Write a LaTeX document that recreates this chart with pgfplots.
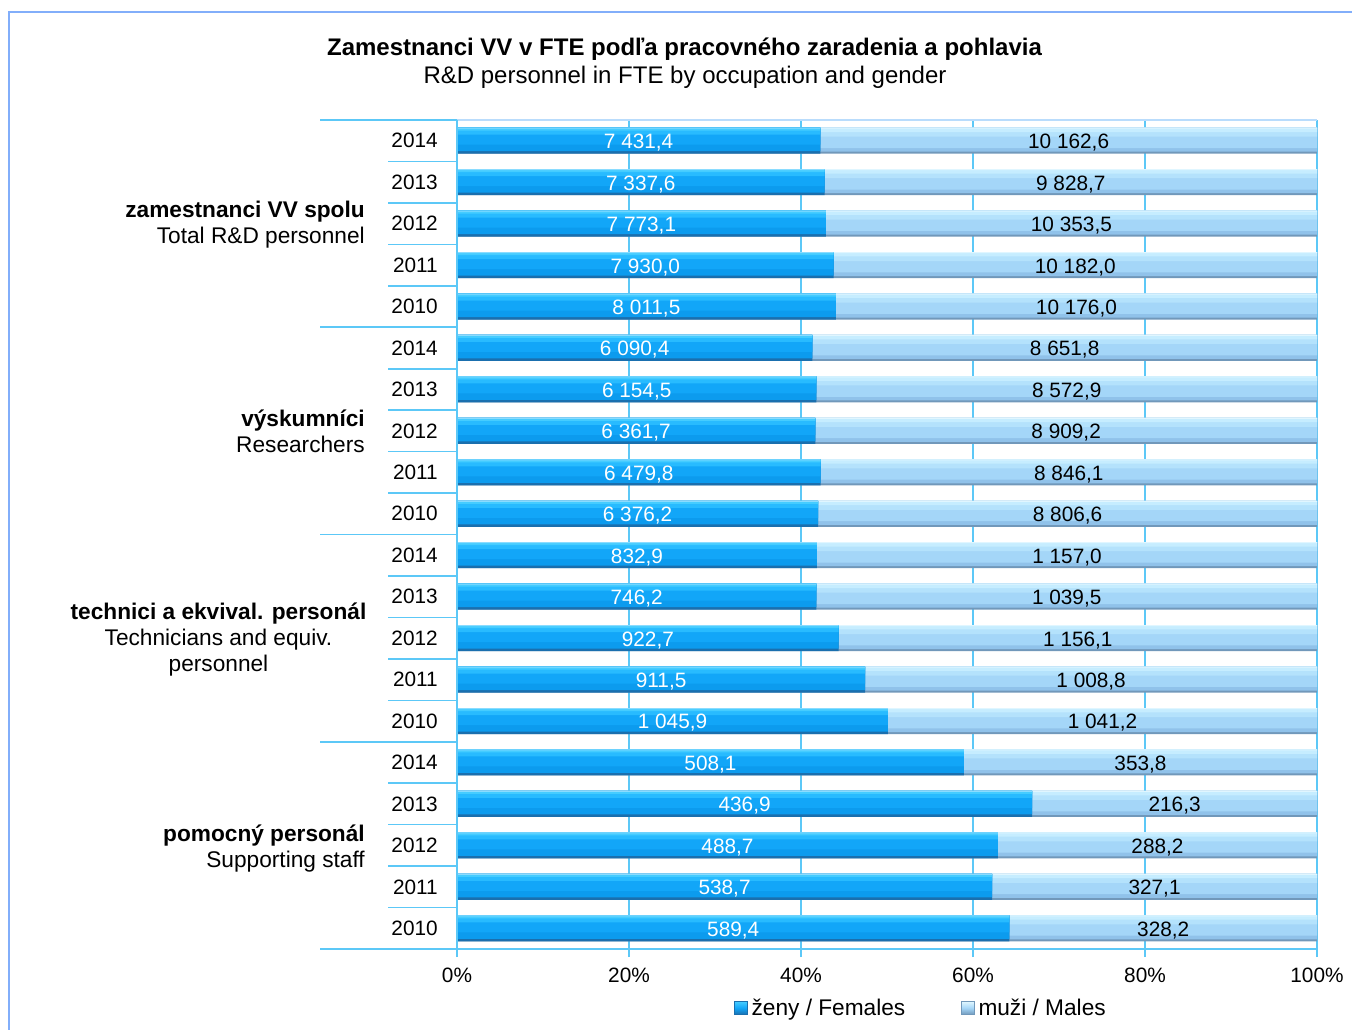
\documentclass[border=0pt]{standalone}
\usepackage{pgfplots}
\pgfplotsset{compat=1.18}
\usepackage{pgfplotstable}
\usepackage{fontspec}
\setmainfont{Liberation Sans}

\definecolor{gridc}{HTML}{5CC8F7}
\definecolor{framec}{HTML}{82AEFA}
\definecolor{fA}{HTML}{1A6FAE}
\definecolor{fB}{HTML}{0C9BEE}
\definecolor{fC}{HTML}{12A6F8}
\definecolor{fD}{HTML}{28BBFF}
\definecolor{fE}{HTML}{45CCFF}
\definecolor{fF}{HTML}{8ADCFF}
\definecolor{mA}{HTML}{7198BA}
\definecolor{mB}{HTML}{90C2EA}
\definecolor{mC}{HTML}{A4D6F8}
\definecolor{mD}{HTML}{B4E2FC}
\definecolor{mE}{HTML}{C6EDFF}
\definecolor{mF}{HTML}{E0F6FF}

\pgfplotstableread{
year f m
2014 7431.4 10162.6
2013 7337.6 9828.7
2012 7773.1 10353.5
2011 7930.0 10182.0
2010 8011.5 10176.0
2014 6090.4 8651.8
2013 6154.5 8572.9
2012 6361.7 8909.2
2011 6479.8 8846.1
2010 6376.2 8806.6
2014 832.9 1157.0
2013 746.2 1039.5
2012 922.7 1156.1
2011 911.5 1008.8
2010 1045.9 1041.2
2014 508.1 353.8
2013 436.9 216.3
2012 488.7 288.2
2011 538.7 327.1
2010 589.4 328.2
}\data

\newcommand\tickfont{\fontsize{15.6}{18}\selectfont}
\newcommand\labfont{\fontsize{17}{19.5}\selectfont}

\begin{document}
\begin{tikzpicture}
\useasboundingbox (0,0) rectangle (1014pt,-771.75pt);
\pgfplotsset{
  common/.style={
    at={(665.25pt,-400.875pt)}, anchor=center,
    width=645pt, height=621.75pt, scale only axis,
    xmin=0, xmax=100, ymin=-0.5, ymax=19.5,
  },
  lay/.style 2 args={forget plot, draw=none, fill=#1, bar width=#2},
}
\begin{axis}[
  common,
  xbar,
  xtick={0,20,...,100},
  xticklabel={\pgfmathprintnumber{\tick}\%},
  /pgf/number format/assume math mode=true,
  xmajorgrids, major grid style={draw=gridc, line width=1.2pt},
  xtick style={draw=gridc, line width=1.2pt},
  xtick pos=lower,
  tick align=outside, major tick length=6pt,
  xticklabel style={font=\tickfont, yshift=-4.5pt},
  ytick={0,...,19},
  yticklabels={2010,2011,2012,2013,2014,2010,2011,2012,2013,2014,2010,2011,2012,2013,2014,2010,2011,2012,2013,2014},
  ytick style={draw=none},
  yticklabel style={font=\tickfont, anchor=east, inner sep=0pt, xshift=-8.25pt},
  axis line style={draw=none},
  clip=false,
  legend style={draw=none, fill=none, at={(0.54,-0.0712)}, anchor=center,
    legend columns=2, font=\labfont,
    /tikz/every even column/.append style={column sep=40pt},
    /tikz/every odd column/.append style={column sep=1pt}},
  legend image code/.code={\path[#1] (0pt,-4.9pt) rectangle (9.5pt,4.9pt);},
]
% males: full bar 0..100 underneath
\addplot[lay={mA}{19.5pt}, bar shift=0pt]      table[x expr=100, y expr=19-\coordindex] {\data};
\addplot[lay={mB}{18pt}, bar shift=0.75pt]     table[x expr=100, y expr=19-\coordindex] {\data};
\addplot[lay={mC}{15.25pt}, bar shift=2.125pt] table[x expr=100, y expr=19-\coordindex] {\data};
\addplot[lay={mD}{6.75pt}, bar shift=6.375pt]  table[x expr=100, y expr=19-\coordindex] {\data};
\addplot[lay={mE}{3.25pt}, bar shift=8.125pt]  table[x expr=100, y expr=19-\coordindex] {\data};
\addplot[lay={mF}{0.75pt}, bar shift=9.375pt]  table[x expr=100, y expr=19-\coordindex] {\data};
% females: share of total
\addplot[lay={fA}{19.5pt}, bar shift=0pt]      table[x expr={100*\thisrow{f}/(\thisrow{f}+\thisrow{m})}, y expr=19-\coordindex] {\data};
\addplot[lay={fB}{17.6pt}, bar shift=0.95pt]   table[x expr={100*\thisrow{f}/(\thisrow{f}+\thisrow{m})}, y expr=19-\coordindex] {\data};
\addplot[lay={fC}{12.75pt}, bar shift=3.375pt] table[x expr={100*\thisrow{f}/(\thisrow{f}+\thisrow{m})}, y expr=19-\coordindex] {\data};
\addplot[lay={fD}{5.25pt}, bar shift=7.125pt]  table[x expr={100*\thisrow{f}/(\thisrow{f}+\thisrow{m})}, y expr=19-\coordindex] {\data};
\addplot[lay={fE}{2.25pt}, bar shift=8.625pt]  table[x expr={100*\thisrow{f}/(\thisrow{f}+\thisrow{m})}, y expr=19-\coordindex] {\data};
\addplot[lay={fF}{0.75pt}, bar shift=9.375pt]  table[x expr={100*\thisrow{f}/(\thisrow{f}+\thisrow{m})}, y expr=19-\coordindex] {\data};
\addlegendimage{top color=fE, bottom color=fA, middle color=fC, draw=fA, line width=0.4pt}
\addlegendentry{ženy / Females}
\addlegendimage{top color=mF, bottom color=mA, middle color=mC, draw=mA, line width=0.4pt}
\addlegendentry{muži / Males}
\draw[gridc, line width=1.2pt] (rel axis cs:0,0) -- (rel axis cs:1,0);
\draw[gridc!40!framec!50, line width=1.2pt] (rel axis cs:0,1) -- (rel axis cs:1,1);
\draw[gridc, line width=1.2pt] (rel axis cs:0,0) -- (rel axis cs:0,1);
\end{axis}

\begin{axis}[
  common, hide axis,
  /pgf/number format/.cd, fixed, fixed zerofill, precision=1, use comma, 1000 sep={\ }, assume math mode=true,
]
\addplot[draw=none, nodes near coords, nodes near coords align=center,
  point meta=explicit,
  every node near coord/.append style={text=white, font=\tickfont, inner sep=0pt, yshift=-1.5pt}]
  table[x expr={50*\thisrow{f}/(\thisrow{f}+\thisrow{m})}, y expr=19-\coordindex, meta=f] {\data};
\addplot[draw=none, nodes near coords, nodes near coords align=center,
  point meta=explicit,
  every node near coord/.append style={text=black, font=\tickfont, inner sep=0pt, yshift=-1.5pt}]
  table[x expr={100-50*\thisrow{m}/(\thisrow{f}+\thisrow{m})}, y expr=19-\coordindex, meta=m] {\data};
\end{axis}

\begin{scope}[x=0.75pt, y=-0.75pt]
  \draw[framec, line width=1.6pt] (9,1035) -- (9,12) -- (1360,12);
  \node[font=\bfseries\fontsize{18}{20}\selectfont] at (684.5,49) {Zamestnanci VV v FTE podľa pracovného zaradenia a pohlavia};
  \node[font=\fontsize{18}{20}\selectfont] at (685,77) {R\&D personnel in FTE by occupation and gender};
  \foreach \k in {1,2,3,4,6,7,8,9,11,12,13,14,16,17,18,19}{
    \draw[gridc, line width=1.2pt] (388,{120+\k*41.45}) -- (457,{120+\k*41.45});
  }
  \foreach \k in {0,5,10,15,20}{
    \draw[gridc, line width=1.2pt] (320,{120+\k*41.45}) -- (457,{120+\k*41.45});
  }
  \begin{scope}[every node/.style={font=\labfont, inner sep=0pt}]
  \node[anchor=east, align=right] at (365,225) {\textbf{zamestnanci VV spolu}\\Total R\&D personnel};
  \node[anchor=east, align=right] at (365,431) {\textbf{výskumníci}\\Researchers};
  \node[anchor=center, align=center] at (218.5,640) {\textbf{technici a ekvival. personál}\\Technicians and equiv.\\personnel};
  \node[anchor=east, align=right] at (365,849) {\textbf{pomocný personál}\\Supporting staff};
  \end{scope}
\end{scope}
\end{tikzpicture}
\end{document}
